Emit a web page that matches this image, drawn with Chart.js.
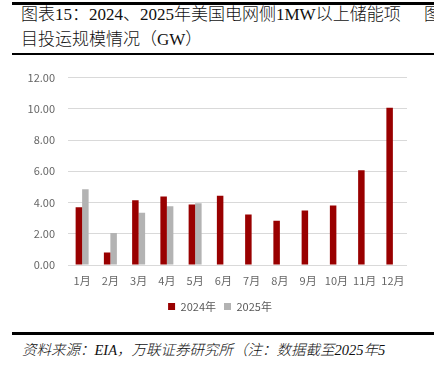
<!DOCTYPE html>
<html>
<head>
<meta charset="utf-8">
<script src="https://cdn.jsdelivr.net/npm/chart.js@4.4.0/dist/chart.umd.min.js"></script>
<style>
  html, body { margin: 0; padding: 0; background: #fff; }
  body { width: 434px; height: 367px; position: relative; overflow: hidden; }
  .rule { position: absolute; background: #000; }
  .title { position: absolute; left: 21px; font-family: "Liberation Serif", "Noto Sans CJK SC", serif; font-size: 17px; font-weight: 300; color: #111; white-space: nowrap; line-height: 20px; }
  .src { position: absolute; left: 22px; top: 340px; font-family: "Liberation Serif", "Noto Sans CJK SC", serif; font-style: italic; font-weight: 300; font-size: 14.5px; color: #111; white-space: nowrap; line-height: 20px; }
  #wrap { position: absolute; left: 0; top: 58px; width: 434px; height: 270px; }
</style>
</head>
<body>
<div class="rule" style="left:12px; top:2px; width:422px; height:3px;"></div>
<div class="title" style="top:5px;">图表15：2024、2025年美国电网侧1MW以上储能项</div>
<div class="title" style="top:5px; left:424px;">图</div>
<div class="title" style="top:30px;">目投运规模情况（GW）</div>
<div class="rule" style="left:12px; top:53px; width:422px; height:2px;"></div>
<div id="wrap"><canvas id="c" width="434" height="270"></canvas></div>
<div class="rule" style="left:12px; top:332px; width:422px; height:3px;"></div>
<div class="src">资料来源：EIA，万联证券研究所（注：数据截至2025年5</div>
<script>
const categories = ["1月","2月","3月","4月","5月","6月","7月","8月","9月","10月","11月","12月"];
const seriesNames = ["2024年","2025年"];
const values2024 = [3.70, 0.80, 4.15, 4.38, 3.87, 4.44, 3.24, 2.84, 3.49, 3.81, 6.07, 10.07];
const values2025 = [4.85, 2.05, 3.34, 3.77, 3.96, null, null, null, null, null, null, null];
const yTicks = [0, 2, 4, 6, 8, 10, 12];

new Chart(document.getElementById('c'), {
  type: 'bar',
  data: {
    labels: categories,
    datasets: [
      { label: seriesNames[0], data: values2024, backgroundColor: '#990000', borderWidth: 0 },
      { label: seriesNames[1], data: values2025, backgroundColor: '#b3b3b3', borderWidth: 0 }
    ]
  },
  options: {
    responsive: false,
    animation: false,
    devicePixelRatio: 1,
    layout: { padding: { left: 24, right: 18, top: 18, bottom: 6 } },
    datasets: { bar: { categoryPercentage: 0.46, barPercentage: 1.0 } },
    scales: {
      x: {
        grid: { display: false, drawTicks: false },
        border: { display: false },
        ticks: { color: '#666666', font: { family: '"Noto Sans CJK SC", sans-serif', size: 11 }, padding: 9, maxRotation: 0, autoSkip: false },
        afterFit: (s) => { s.height = 28; }
      },
      y: {
        min: 0, max: 12,
        afterBuildTicks: (s) => { s.ticks = yTicks.map(v => ({ value: v })); },
        grid: { color: '#d9d9d9', drawTicks: false, lineWidth: 1 },
        border: { display: false },
        ticks: { color: '#666666', font: { family: '"Noto Sans CJK SC", sans-serif', size: 11 }, padding: 13, callback: (v) => Number(v).toFixed(2) },
        afterFit: (s) => { s.width = 44; }
      },
      yR: {
        position: 'right',
        display: true,
        min: 0, max: 12,
        grid: { drawOnChartArea: false, drawTicks: false },
        border: { display: false },
        ticks: { display: false },
        afterFit: (s) => { s.width = 9; }
      }
    },
    plugins: {
      legend: {
        position: 'bottom',
        labels: { boxWidth: 7, boxHeight: 7, color: '#595959', font: { family: '"Noto Sans CJK SC", sans-serif', size: 11 }, padding: 8 }
      },
      tooltip: { enabled: false }
    }
  }
});
</script>
</body>
</html>
